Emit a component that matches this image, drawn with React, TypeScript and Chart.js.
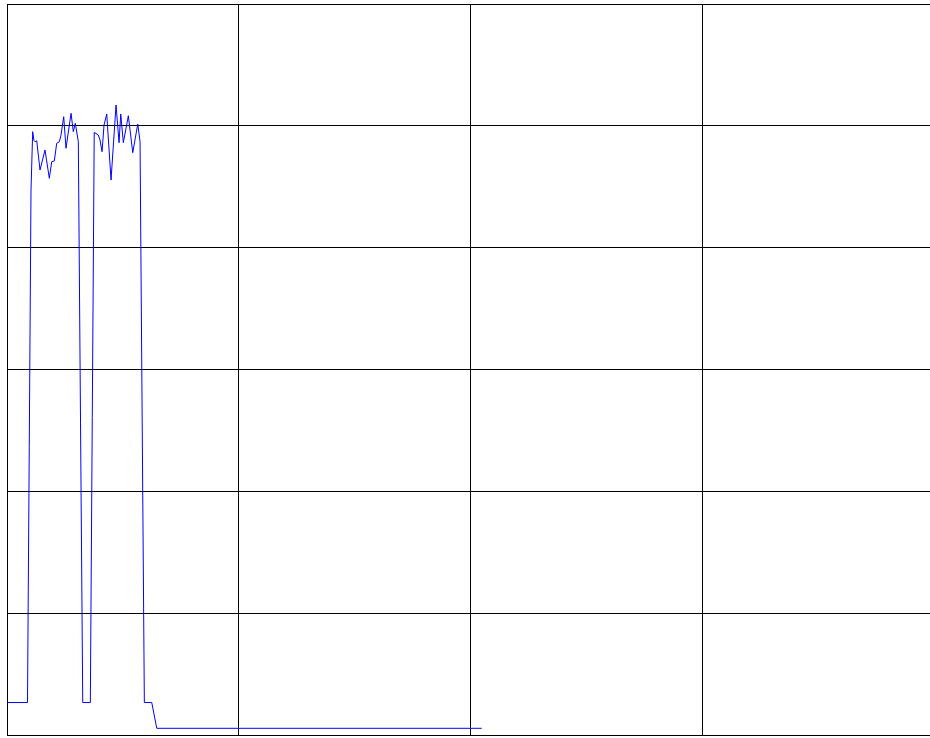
import React, { useEffect, useRef } from "react";
import { Chart, registerables } from "chart.js";

Chart.register(...registerables);

// x positions (sample index) and values
const xValues: number[] = [
  0, 8.85, 10.36, 11.09, 11.65, 12.09, 12.82, 14.24, 16.4, 18.26, 19.29, 20.42,
  21.45, 22.58, 23.31, 24.47, 25.47, 27.63, 28.62, 29.48, 30.78, 32.68, 35.96,
  37.64, 39.41, 40.14, 41.01, 41.87, 43.04, 44.89, 47.05, 48.35, 49.08, 50.2,
  52.36, 54.26, 56.42, 57.41, 59.27, 62.46, 64.62, 204.82,
];
const yValues: number[] = [
  5.33, 5.33, 89.47, 99.04, 97.56, 97.39, 97.56, 92.75, 96.03, 91.39, 94.11,
  94.23, 97.13, 97.39, 98.49, 101.5, 96.31, 102.06, 99.04, 100.42, 97.39, 5.33,
  5.33, 98.94, 98.49, 97.67, 95.75, 100.14, 101.94, 91.11, 103.42, 97.23,
  101.94, 97.23, 101.66, 95.59, 100.3, 97.39, 5.33, 5.33, 1.1, 1.1,
];
const xTicks: number[] = [0, 100, 200, 300, 400];
const yTicks: number[] = [0, 20, 40, 60, 80, 100, 120];

export default function App() {
  const ref = useRef<HTMLCanvasElement | null>(null);
  useEffect(() => {
    if (!ref.current) return;
    const points = xValues.map((x, i) => ({ x, y: yValues[i] }));
    const chart = new Chart(ref.current, {
      type: "scatter",
      data: {
        datasets: [
          {
            data: points,
            showLine: true,
            borderColor: "#0000ff",
            borderWidth: 1,
            pointRadius: 0,
            tension: 0,
            fill: false,
          },
        ],
      },
      options: {
        animation: false,
        responsive: false,
        devicePixelRatio: 1,
        layout: { padding: { left: 7, top: 4, right: 6, bottom: 3 } },
        plugins: { legend: { display: false }, tooltip: { enabled: false } },
        scales: {
          x: {
            type: "linear",
            min: xTicks[0],
            max: xTicks[xTicks.length - 1],
            afterBuildTicks: (s: any) => {
              s.ticks = xTicks.map((v) => ({ value: v }));
            },
            ticks: { display: false },
            grid: { color: "#000", lineWidth: 1, drawTicks: false },
            border: { display: true, color: "#000", width: 1 },
          },
          y: {
            type: "linear",
            min: yTicks[0],
            max: yTicks[yTicks.length - 1],
            afterBuildTicks: (s: any) => {
              s.ticks = yTicks.map((v) => ({ value: v }));
            },
            ticks: { display: false },
            grid: { color: "#000", lineWidth: 1, drawTicks: false },
            border: { display: true, color: "#000", width: 1 },
          },
        },
      },
    });
    return () => chart.destroy();
  }, []);
  return (
    <canvas
      ref={ref}
      width={940}
      height={738}
      style={{ position: "fixed", left: 0, top: 0, width: 940, height: 738, background: "#fff" }}
    />
  );
}
